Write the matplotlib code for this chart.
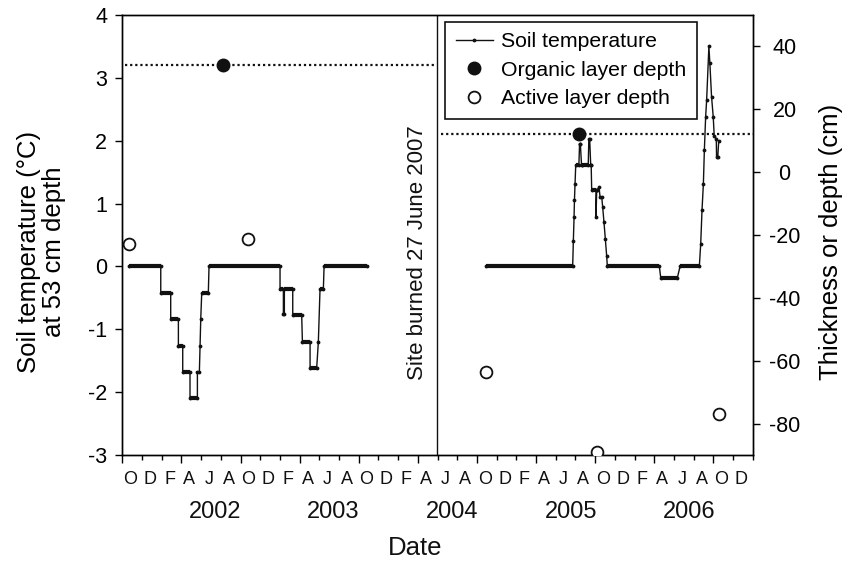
import matplotlib.pyplot as plt
from matplotlib.lines import Line2D

plt.rcParams['font.family'] = ['Liberation Sans', 'DejaVu Sans']
plt.rcParams['axes.unicode_minus'] = False

# x axis in months counted from 1 Oct 2001 (two-month ticks)
month_labels = list("ODFAJA" * 5 + "OD")
years = ['2002', '2003', '2004', '2005', '2006']
year_pos = [9.4, 21.4, 33.5, 45.55, 57.6]

# soil temperature at 53 cm (deg C), before the fire
temp_a_x = [0.68, 3.9, 3.9, 4.91, 4.91, 5.69, 5.69, 6.13, 6.13, 6.87, 6.87, 7.62, 7.62,
            7.82, 7.89, 7.96, 8.06, 8.73, 8.8,
            16.01, 16.01, 16.35, 16.35, 16.45, 16.45, 17.3, 17.3, 18.21, 18.28, 19.06,
            19.06, 19.73, 19.9, 20.07, 20.41, 20.48, 24.88]
temp_a_y = [0, 0, -0.42, -0.42, -0.84, -0.84, -1.27, -1.27, -1.68, -1.68, -2.1, -2.1, -1.68,
            -1.68, -1.27, -0.84, -0.42, -0.42, 0,
            0, -0.36, -0.36, -0.76, -0.76, -0.36, -0.36, -0.78, -0.78, -1.2, -1.2,
            -1.62, -1.62, -1.2, -0.36, -0.36, 0, 0]

# soil temperature after the fire
temp_b_x = [36.89, 45.72, 45.79, 45.86, 45.9, 45.96, 46.03, 46.35, 46.42, 46.5, 46.62, 46.7,
            47.3, 47.36, 47.45, 47.55, 47.6, 47.65, 48.09, 48.09, 48.16, 48.23, 48.4, 48.5,
            48.67, 48.77, 48.9, 49.04, 49.17, 49.24, 54.52, 54.66, 56.35, 56.62, 58.58,
            58.72, 58.85, 58.99, 59.09, 59.22, 59.32, 59.55, 59.65, 59.82, 59.99, 60.09,
            60.3, 60.33, 60.45, 60.55]
temp_b_y = [0, 0, 0.41, 0.78, 1.05, 1.31, 1.61, 1.61, 1.95, 1.95, 1.61, 1.61,
            1.61, 2.02, 2.02, 1.61, 1.61, 1.22, 1.22, 0.78, 1.22, 1.22, 1.26, 1.1,
            1.1, 0.94, 0.7, 0.43, 0.17, 0, 0, -0.18, -0.18, 0, 0,
            0.36, 0.89, 1.31, 1.85, 2.38, 2.64, 3.5, 3.23, 2.7, 2.38, 2.08,
            2.03, 1.74, 1.74, 2.0]

# organic layer depth (cm, right axis) and the dotted reference lines
org_x = [10.2, 46.37]
org_y = [34, 12]
org_span = [(0.3, 31.6), (32.4, 64)]

# active layer depth (cm, right axis)
act_x = [0.7, 12.8, 36.9, 48.2, 60.6]
act_y = [-22.8, -21.3, -63.6, -88.9, -76.8]

burn_x = 31.9
ink = '#111111'

fig = plt.figure(figsize=(8.49, 5.65), dpi=100)
ax = fig.add_axes([0.1441, 0.1947, 0.7425, 0.7788])
ax2 = ax.twinx()

for xs, ys in [(temp_a_x, temp_a_y), (temp_b_x, temp_b_y)]:
    ax.plot(xs, ys, color=ink, lw=1, marker='.', ms=3.5)
    # flat stretches look heavy because of the daily points
    for i in range(len(xs) - 1):
        if ys[i] == ys[i + 1] and xs[i + 1] - xs[i] > 0.3:
            ax.plot([xs[i], xs[i + 1]], [ys[i], ys[i]], color=ink, lw=3,
                    solid_capstyle='butt')

ax.axvline(burn_x, color=ink, lw=1)

for (x0, x1), y in zip(org_span, org_y):
    ax2.plot([x0, x1], [y, y], color=ink, lw=1.6, ls=(0, (1, 1.3)))
ax2.plot(org_x, org_y, 'o', color=ink, ms=9, ls='none', zorder=5)
ax2.plot(act_x, act_y, 'o', mfc='white', mec=ink, mew=1.3, ms=8.5, ls='none', zorder=5)

ax.set_xlim(0, 64)
ax.set_ylim(-3, 4)
ax2.set_ylim(-90, 50)

ax.set_xticks(range(0, 61, 6))
ax.set_xticks(range(0, 65, 2), minor=True)
ax.tick_params(axis='x', which='major', length=6, width=1, labelbottom=False)
ax.tick_params(axis='x', which='minor', length=3.5, width=1, labelbottom=False)
ax.set_yticks(range(-3, 5))
ax.tick_params(axis='y', length=5, width=1, labelsize=15.5, pad=6)
ax2.set_yticks(range(-80, 41, 20))
ax2.tick_params(axis='y', length=5, width=1, labelsize=15.5, pad=18)
for lab in ax2.get_yticklabels():
    lab.set_horizontalalignment('center')

for sp in list(ax.spines.values()) + list(ax2.spines.values()):
    sp.set_linewidth(1)

trans = ax.get_xaxis_transform()
for i, lab in enumerate(month_labels):
    ax.text(2 * i + 0.8, -0.066, lab, transform=trans, ha='center', va='baseline',
            fontsize=13, color=ink)
for yr, xp in zip(years, year_pos):
    ax.text(xp, -0.143, yr, transform=trans, ha='center', va='baseline', fontsize=17,
            color=ink)
ax.text(29.7, -0.227, 'Date', transform=trans, ha='center', va='baseline', fontsize=18.5,
        color=ink)
ax.text(30.0, 0.75, 'Site burned 27 June 2007', transform=trans, rotation=90,
        ha='center', va='top', fontsize=16, color=ink)

ax.set_ylabel('Soil temperature (°C)\nat 53 cm depth', fontsize=18.5, linespacing=1.05)
ax.yaxis.set_label_coords(-0.089, 0.461)
ax2.set_ylabel('Thickness or depth (cm)', fontsize=18.5)
ax2.yaxis.set_label_coords(1.105, 0.485)

handles = [
    Line2D([], [], color=ink, lw=1, marker='.', ms=3.5),
    Line2D([], [], color=ink, marker='o', ms=9, ls='none'),
    Line2D([], [], mfc='white', mec=ink, mew=1.3, marker='o', ms=8.5, ls='none'),
]
leg = ax2.legend(handles, ['Soil temperature', 'Organic layer depth', 'Active layer depth'],
                 loc='upper left', bbox_to_anchor=(0.512, 0.985), borderaxespad=0,
                 fontsize=15.3, fancybox=False, framealpha=1, edgecolor=ink,
                 handlelength=1.75, handletextpad=0.4, labelspacing=0.45, borderpad=0.5)
leg.get_frame().set_linewidth(1.2)

fig.savefig('out.png', dpi=100)
